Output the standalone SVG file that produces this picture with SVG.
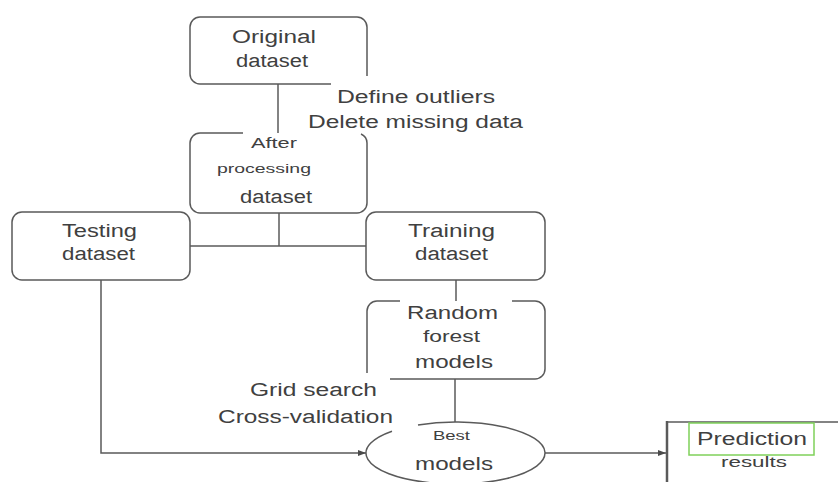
<svg xmlns="http://www.w3.org/2000/svg" width="838" height="482" viewBox="0 0 838 482">
  <defs>
    <style>
      .box { fill: none; stroke: #5a5a5a; stroke-width: 1.5; }
      .wire { fill: none; stroke: #5a5a5a; stroke-width: 1.5; }
      text { font-family: "Liberation Sans", Arial, sans-serif; fill: #404040; }
      .lg { font-size: 18px; }
      .md { font-size: 15px; }
      .sm { font-size: 13px; }
    </style>
    <marker id="arrow" viewBox="0 0 8 6" refX="8" refY="3" markerWidth="8" markerHeight="6" markerUnits="userSpaceOnUse" orient="auto">
      <path d="M0,0 L8,3 L0,6 Z" fill="#4a4a4a"/>
    </marker>
  </defs>

  <rect width="838" height="482" fill="#ffffff"/>

  <!-- connectors -->
  <g id="connectors">
    <path class="wire" d="M278,84 V133"/>
    <path class="wire" d="M279,213 V246"/>
    <path class="wire" d="M190,246 H366"/>
    <path class="wire" d="M456,280 V301"/>
    <path class="wire" d="M455,379 V422"/>
    <path class="wire" d="M101,280 V453 H366" marker-end="url(#arrow)"/>
    <path class="wire" d="M545,453 H666" marker-end="url(#arrow)"/>
  </g>

  <!-- Original dataset -->
  <g id="original">
    <path class="box" d="M331,84 H200 A10,10 0 0 1 190,74 V27 A10,10 0 0 1 200,17 H357 A10,10 0 0 1 367,27 V76"/>
    <text class="lg" x="232" y="43" textLength="84" lengthAdjust="spacingAndGlyphs">Original</text>
    <text class="lg" x="236" y="67" textLength="72" lengthAdjust="spacingAndGlyphs">dataset</text>
  </g>

  <!-- preprocessing notes -->
  <g id="preprocess-label">
    <text class="lg" x="337" y="103" textLength="158" lengthAdjust="spacingAndGlyphs">Define outliers</text>
    <text class="lg" x="308" y="128" textLength="215" lengthAdjust="spacingAndGlyphs">Delete missing data</text>
  </g>

  <!-- After processing dataset -->
  <g id="processed">
    <path class="box" d="M243,133 H200 A10,10 0 0 0 190,143 V203 A10,10 0 0 0 200,213 H357 A10,10 0 0 0 367,203 V143 A10,10 0 0 0 361,134"/>
    <text class="md" x="251" y="148" textLength="46" lengthAdjust="spacingAndGlyphs">After</text>
    <text class="sm" x="217" y="173" textLength="94" lengthAdjust="spacingAndGlyphs">processing</text>
    <text class="lg" x="240" y="203" textLength="72" lengthAdjust="spacingAndGlyphs">dataset</text>
  </g>

  <!-- Testing dataset -->
  <g id="testing">
    <rect class="box" x="12" y="212" width="178" height="68" rx="10"/>
    <text class="lg" x="62" y="237" textLength="75" lengthAdjust="spacingAndGlyphs">Testing</text>
    <text class="lg" x="62" y="260" textLength="73" lengthAdjust="spacingAndGlyphs">dataset</text>
  </g>

  <!-- Training dataset -->
  <g id="training">
    <rect class="box" x="366" y="212" width="179" height="68" rx="10"/>
    <text class="lg" x="408" y="237" textLength="87" lengthAdjust="spacingAndGlyphs">Training</text>
    <text class="lg" x="415" y="260" textLength="73" lengthAdjust="spacingAndGlyphs">dataset</text>
  </g>

  <!-- Random forest models -->
  <g id="random-forest">
    <path class="box" d="M400,301 H377 A10,10 0 0 0 367,311 V373"/>
    <path class="box" d="M390,379 H535 A10,10 0 0 0 545,369 V311 A10,10 0 0 0 535,301 H512"/>
    <text class="lg" x="407" y="319" textLength="91" lengthAdjust="spacingAndGlyphs">Random</text>
    <text style="font-size:16px" x="423" y="342" textLength="57" lengthAdjust="spacingAndGlyphs">forest</text>
    <text class="lg" x="415" y="368" textLength="78" lengthAdjust="spacingAndGlyphs">models</text>
  </g>

  <!-- tuning notes -->
  <g id="tuning-label">
    <text class="lg" x="250" y="396" textLength="127" lengthAdjust="spacingAndGlyphs">Grid search</text>
    <text class="lg" x="218" y="423" textLength="175" lengthAdjust="spacingAndGlyphs">Cross-validation</text>
  </g>

  <!-- Best models -->
  <g id="best-models">
    <path class="box" d="M418,424.9 A89.5,31 0 1 1 392,431.2"/>
    <text class="sm" x="433" y="440" textLength="37" lengthAdjust="spacingAndGlyphs">Best</text>
    <text class="lg" x="415" y="470" textLength="78" lengthAdjust="spacingAndGlyphs">models</text>
  </g>

  <!-- Prediction results -->
  <g id="prediction">
    <path fill="none" stroke="#5a5a5a" stroke-width="2.5" d="M667,421 V482"/>
    <path class="wire" d="M666,422 H838"/>
    <rect x="689" y="423" width="125" height="32" fill="none" stroke="#7fd15a" stroke-width="1.5"/>
    <text class="lg" x="697" y="445" textLength="110" lengthAdjust="spacingAndGlyphs">Prediction</text>
    <text class="md" x="721" y="467" textLength="66" lengthAdjust="spacingAndGlyphs">results</text>
  </g>
</svg>
